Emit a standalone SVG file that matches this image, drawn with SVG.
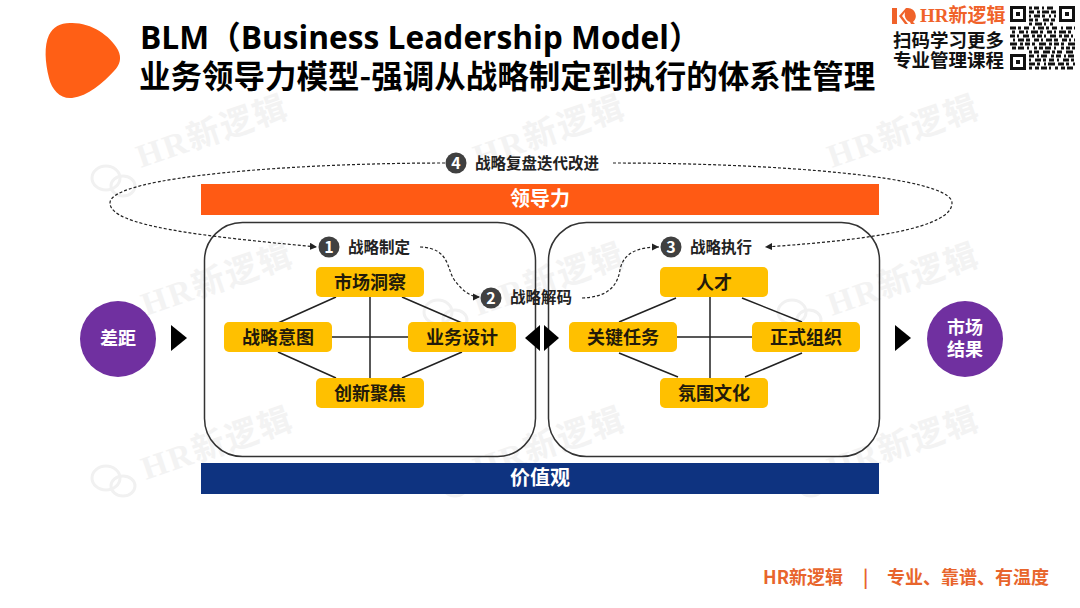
<svg xmlns="http://www.w3.org/2000/svg" width="1080" height="608" viewBox="0 0 1080 608">
<defs>
<style>
text{font-family:"Noto Sans CJK SC","Noto Sans",sans-serif;text-anchor:middle}
.t{font-weight:700;fill:#000;text-anchor:start;font-size:31.500px}
.t1{font-family:"Open Sans","Noto Sans CJK SC",sans-serif;font-size:31.700px}
.k{font-weight:700;fill:#221a0a;font-size:18px}
.l{font-weight:700;fill:#222;font-size:15.500px;text-anchor:start}
.d{font-weight:700;font-size:16px;fill:#fff}
.w{font-weight:700;fill:#fff;font-size:20px}
.n{font-weight:700;fill:#fff;font-size:18px}
.box{fill:#ffc000;stroke:none}
.frame{fill:none;stroke:#333;stroke-width:1.5}
.line{stroke:#222;stroke-width:1.5;fill:none}
.dash{stroke:#222;stroke-width:1.2;fill:none;stroke-dasharray:3 2}
.wm{font-family:"Liberation Serif","Noto Sans CJK SC",serif;font-size:33px;fill:#f3f3f3;font-weight:700;text-anchor:start;letter-spacing:2px}
.chev{fill:#000}
.bub{fill:#404040}
.foot{font-weight:700;font-size:18px;fill:#e8652c;text-anchor:start}
.qr{stroke:#111;stroke-width:2.8;fill:none}
</style>
<marker id="ah" markerWidth="7" markerHeight="7" refX="6" refY="3" orient="auto"><path d="M0 0L6 3L0 6Z" fill="#222"/></marker>
<g id="wc" fill="none" stroke="#f1f1f1" stroke-width="3"><ellipse cx="14" cy="12" rx="14" ry="12"/><ellipse cx="31" cy="20" rx="12" ry="10"/></g>
</defs>
<rect width="1080" height="608" fill="#fff"/>
<g id="watermarks">
<use href="#wc" x="92" y="166"/><use href="#wc" x="92" y="466"/><use href="#wc" x="424" y="466"/><use href="#wc" x="780" y="466"/><use href="#wc" x="778" y="300"/><use href="#wc" x="424" y="300"/>
<text class="wm" transform="translate(141 168) rotate(-19)">HR新逻辑</text>
<text class="wm" transform="translate(478 168) rotate(-19)">HR新逻辑</text>
<text class="wm" transform="translate(832 168) rotate(-19)">HR新逻辑</text>
<text class="wm" transform="translate(146 316) rotate(-19)">HR新逻辑</text>
<text class="wm" transform="translate(478 316) rotate(-19)">HR新逻辑</text>
<text class="wm" transform="translate(832 316) rotate(-19)">HR新逻辑</text>
<text class="wm" transform="translate(146 480) rotate(-19)">HR新逻辑</text>
<text class="wm" transform="translate(478 480) rotate(-19)">HR新逻辑</text>
<text class="wm" transform="translate(832 480) rotate(-19)">HR新逻辑</text>
</g>
<g id="logo"><path d="M70 23C90 22 110 35 118 50C122 58 120 65 114 71C103 83 88 96 72 98C60 99 52 90 49 78C45 62 44 46 49 35C53 27 60 23 70 23Z" fill="#ff5f15"/></g>
<g id="title">
<text class="t t1" x="140" y="49">BLM（Business Leadership Model）</text>
<text class="t" x="139" y="88">业务领导力模型-强调从战略制定到执行的体系性管理</text>
</g>
<g id="brand">
<path d="M892 8h5v16h-5zM899 16L906 8h2L902 16L908 24h-3ZM908 8a8 8 0 0 1 5 14l2 2h-4l-1-2a8 8 0 0 1-2-14Z" fill="#f0622a"/>
<text x="920" y="22" style="font-family:'Liberation Serif','Noto Sans CJK SC',serif;font-weight:700;font-size:19px;fill:#f0622a;text-anchor:start">HR新逻辑</text>
<text x="893" y="47" style="font-weight:700;font-size:18.500px;fill:#111;text-anchor:start">扫码学习更多</text>
<text x="893" y="67" style="font-weight:700;font-size:18.500px;fill:#111;text-anchor:start">专业管理课程</text>
</g>
<g id="qr" fill="#111">
<path fill-rule="evenodd" d="M1010 6h16v16h-16zM1013 9v10h10v-10zM1059 6h16v16h-16zM1062 9v10h10v-10zM1010 54h16v16h-16zM1013 57v10h10v-10z"/>
<rect x="1016" y="12" width="4" height="4"/><rect x="1065" y="12" width="4" height="4"/><rect x="1016" y="60" width="4" height="4"/>
<path class="qr" stroke-dasharray="3 2 5 3 2 3 6" d="M1029 8H1056"/>
<path class="qr" stroke-dasharray="5 3 3 2 7 2" d="M1029 12H1056"/>
<path class="qr" stroke-dasharray="2 3 6 2 3 4" d="M1029 16H1056"/>
<path class="qr" stroke-dasharray="4 2 3 5 6 2" d="M1029 20H1056"/>
<path class="qr" stroke-dasharray="3 3 7 2 2 4" d="M1029 24H1056"/>
<path class="qr" stroke-dasharray="6 2 3 3 5 4 2 3" d="M1010 28H1075"/>
<path class="qr" stroke-dasharray="3 4 5 2 2 3 7 2" d="M1012 32H1075"/>
<path class="qr" stroke-dasharray="5 2 2 4 6 3 3 2" d="M1010 36H1075"/>
<path class="qr" stroke-dasharray="2 3 6 2 4 4 5 2" d="M1013 40H1075"/>
<path class="qr" stroke-dasharray="7 3 3 2 5 2 3 4" d="M1010 44H1075"/>
<path class="qr" stroke-dasharray="4 2 6 3 2 5 3 2" d="M1012 48H1075"/>
<path class="qr" stroke-dasharray="3 2 5 4 7 2" d="M1029 52H1075"/>
<path class="qr" stroke-dasharray="5 3 2 2 6 4 3 2" d="M1029 56H1075"/>
<path class="qr" stroke-dasharray="2 4 6 2 3 3 5 3" d="M1029 60H1075"/>
<path class="qr" stroke-dasharray="6 2 3 4 2 2 7 3" d="M1029 64H1075"/>
<path class="qr" stroke-dasharray="3 3 4 2 6 2 2 4" d="M1029 68H1075"/>
</g>
<g id="leadership"><rect x="201" y="184" width="678" height="31" fill="#ff5a14"/><text class="w" x="540" y="206">领导力</text></g>
<g id="values"><rect x="201" y="463" width="678" height="31" fill="#0e3380"/><text class="w" x="540" y="485">价值观</text></g>
<g id="frames"><rect class="frame" x="204.500" y="222.500" width="331" height="234" rx="38"/><rect class="frame" x="548.500" y="222.500" width="331" height="234" rx="38"/></g>
<g id="connectors">
<path class="line" d="M370 297V378M332 337H408M336 297L278 323M402 297L462 323M278 352L336 378M462 352L402 378"/>
<path class="line" d="M710 297V378M677 337H752M676 298L619 322M742 298L802 322M619 353L678 377M802 353L745 377"/>
<path class="dash" d="M445 163C300 163 110 176 110 203C110 226 200 236 317 247" marker-end="url(#ah)"/>
<path class="dash" d="M613 163C770 163 952 176 952 203C952 228 870 240 765 247" marker-end="url(#ah)"/>
<path class="dash" d="M420 247C452 248 446 272 456 282C462 290 470 297 480 297" marker-end="url(#ah)"/>
<path class="dash" d="M582 298C606 297 617 288 620 270C623 254 636 247 659 247" marker-end="url(#ah)"/>
</g>
<g id="s1"><circle class="bub" cx="329" cy="247" r="10.500"/><text class="d" x="329" y="253">1</text><text class="l" x="348" y="253">战略制定</text></g>
<g id="s2"><circle class="bub" cx="491" cy="298" r="10.500"/><text class="d" x="491" y="304">2</text><text class="l" x="510" y="303">战略解码</text></g>
<g id="s3"><circle class="bub" cx="671" cy="247" r="10.500"/><text class="d" x="671" y="253">3</text><text class="l" x="690" y="253">战略执行</text></g>
<g id="s4"><circle class="bub" cx="456" cy="163" r="10.500"/><text class="d" x="456" y="169">4</text><text class="l" x="475" y="169">战略复盘迭代改进</text></g>
<g id="n1"><rect class="box" x="316" y="267" width="108" height="30" rx="5"/><text class="k" x="370" y="288.500">市场洞察</text></g>
<g id="n2"><rect class="box" x="224" y="322" width="108" height="30" rx="5"/><text class="k" x="278" y="343.500">战略意图</text></g>
<g id="n3"><rect class="box" x="408" y="322" width="108" height="30" rx="5"/><text class="k" x="462" y="343.500">业务设计</text></g>
<g id="n4"><rect class="box" x="316" y="378" width="108" height="30" rx="5"/><text class="k" x="370" y="399.500">创新聚焦</text></g>
<g id="n5"><rect class="box" x="660" y="267" width="108" height="30" rx="5"/><text class="k" x="714" y="288.500">人才</text></g>
<g id="n6"><rect class="box" x="569" y="322" width="108" height="30" rx="5"/><text class="k" x="623" y="343.500">关键任务</text></g>
<g id="n7"><rect class="box" x="752" y="322" width="108" height="30" rx="5"/><text class="k" x="806" y="343.500">正式组织</text></g>
<g id="n8"><rect class="box" x="660" y="378" width="108" height="30" rx="5"/><text class="k" x="714" y="399.500">氛围文化</text></g>
<g id="gap"><circle cx="118" cy="339" r="38" fill="#7030a0"/><text class="n" x="118" y="345">差距</text></g>
<g id="result"><circle cx="965" cy="339" r="38" fill="#7030a0"/><text class="n" x="965" y="334">市场</text><text class="n" x="965" y="356">结果</text></g>
<g id="chevrons">
<path class="chev" d="M171 325L187 338L171 351Z"/>
<path class="chev" d="M540 325L525 338L540 351Z"/>
<path class="chev" d="M544 325L559 338L544 351Z"/>
<path class="chev" d="M895 325L911 338L895 351Z"/>
</g>
<g id="footer"><text class="foot" x="763" y="584">HR新逻辑</text><text class="foot" x="863" y="584">|</text><text class="foot" x="887" y="584">专业、靠谱、有温度</text></g>
</svg>
